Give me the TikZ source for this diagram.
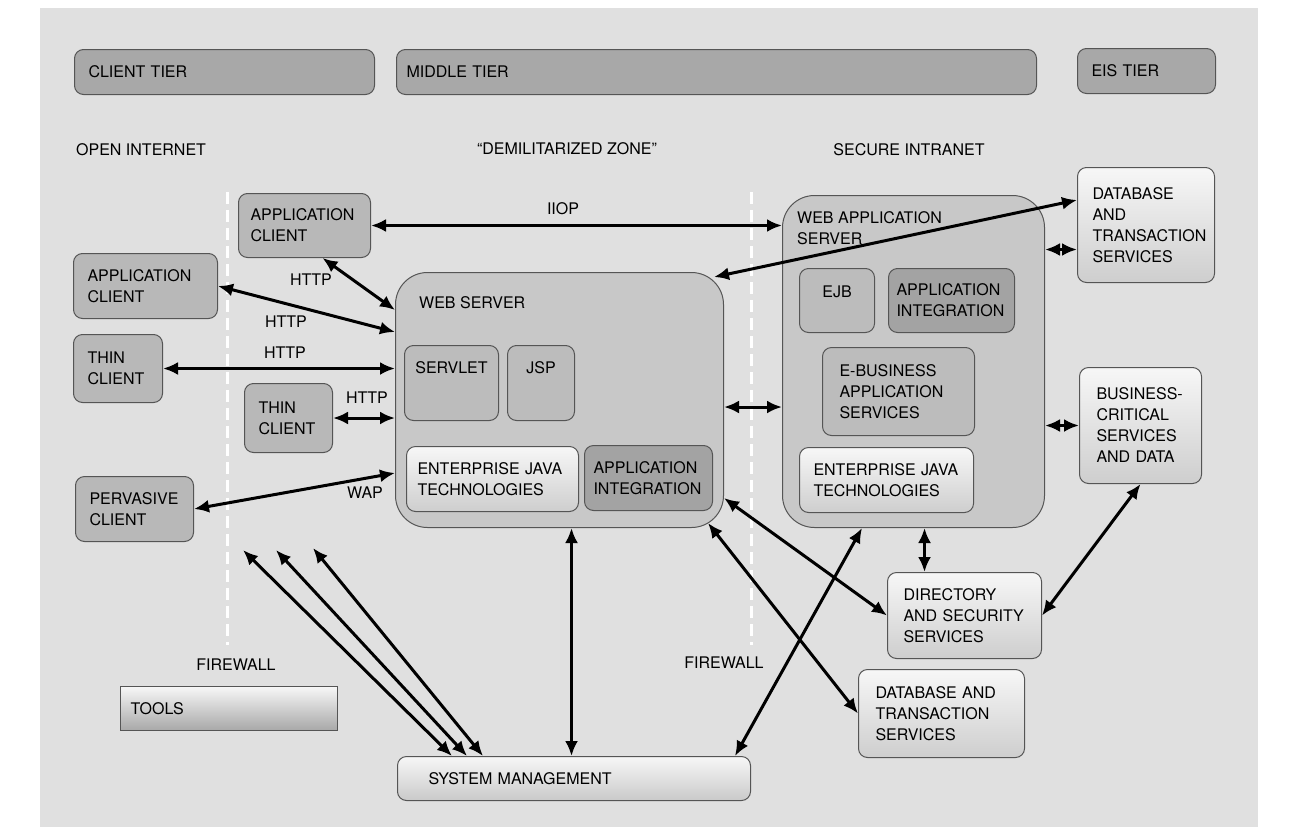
\documentclass[tikz,border=0pt]{standalone}
\usepackage{fontspec}
\setmainfont{TeX Gyre Heros}
\usetikzlibrary{arrows.meta,positioning}

\definecolor{panelgray}{RGB}{224,224,224}
\definecolor{tiergray}{RGB}{168,168,168}
\definecolor{clientgray}{RGB}{184,184,184}
\definecolor{servergray}{RGB}{200,200,200}
\definecolor{innergray}{RGB}{188,188,188}
\definecolor{intgray}{RGB}{163,163,163}
\definecolor{lighttop}{RGB}{247,247,247}
\definecolor{lightbot}{RGB}{206,206,206}
\definecolor{edgegray}{RGB}{85,85,85}

\tikzset{
	box/.style={draw=edgegray, line width=1pt, rounded corners=9pt, anchor=north west,
		inner xsep=14pt, inner ysep=0pt, align=left, font=\fontsize{16}{21}\selectfont},
	tierbar/.style={box, fill=tiergray},
	clientbox/.style={box, fill=clientgray},
	innerbox/.style={box, fill=innergray},
	intbox/.style={box, fill=intgray},
	lightbox/.style={box, top color=lighttop, bottom color=lightbot},
	serverbox/.style={box, fill=servergray, rounded corners=32pt},
	lbl/.style={inner sep=0pt, align=left, font=\fontsize{16}{21}\selectfont},
	conn/.style={line width=3pt, {Latex[length=15pt,width=13pt]}-{Latex[length=15pt,width=13pt]}},
	firewall/.style={draw=white, line width=3pt, dash pattern=on 12pt off 6pt}
}

\begin{document}
\begin{tikzpicture}[x=1pt,y=-1pt]
			%%%%% START %%%%%
			
			\fill[white] (0,0) rectangle (1289,827);
			\fill[panelgray] (40,8) rectangle (1258,827);
			\useasboundingbox (0,0) rectangle (1289,827);
			
			% tiers and zones
			\node[tierbar, minimum height=45, text width=272] (ctier) at (74,49) {CLIENT TIER};
			\node[tierbar, minimum height=45, text width=620, inner xsep=10pt] (mtier) at (396,49) {MIDDLE TIER};
			\node[tierbar, minimum height=45, text width=110] (etier) at (1077,48) {EIS TIER};
			
			\node[lbl, anchor=west] (openinet) at (76,150) {OPEN INTERNET};
			\node[lbl] (dmz) at (567,149) {``DEMILITARIZED ZONE''};
			\node[lbl] (intranet) at (909,150) {SECURE INTRANET};
			
			\draw[firewall] (227,192) -- (227,645);
			\draw[firewall] (751,192) -- (751,645);
			\node[lbl] (fwleft) at (236,665) {FIREWALL};
			\node[lbl] (fwright) at (724,663) {FIREWALL};
			
			% clients
			\node[clientbox, minimum height=64, text width=108, inner xsep=12pt] (ac1) at (238,193) {APPLICATION\\CLIENT};
			\node[clientbox, minimum height=65, text width=116] (ac2) at (73,253) {APPLICATION\\CLIENT};
			\node[clientbox, minimum height=68, text width=61] (tc1) at (73,334) {THIN\\CLIENT};
			\node[clientbox, minimum height=69, text width=60] (tc2) at (244,383) {THIN\\CLIENT};
			\node[clientbox, minimum height=65, text width=90] (pc) at (75,476) {PERVASIVE\\CLIENT};
			
			% web server
			\node[serverbox, minimum width=328, minimum height=255] (ws) at (395,272) {};
			\node[lbl, anchor=north west, below right=24pt and 24pt of ws.north west] (wstitle) {WEB SERVER};
			\node[innerbox, minimum width=94, minimum height=75] (servlet) at (404,345) {};
			\node[lbl, below=16pt of servlet.north] (servlettxt) {SERVLET};
			\node[innerbox, minimum width=67, minimum height=75] (jsp) at (507,345) {};
			\node[lbl, below=16pt of jsp.north] (jsptxt) {JSP};
			\node[lightbox, minimum height=65, text width=150, inner xsep=11pt] (wsjava) at (406,446) {ENTERPRISE~JAVA\\TECHNOLOGIES};
			\node[intbox, minimum height=65, text width=110, inner xsep=9pt] (wsint) at (584,445) {APPLICATION\\INTEGRATION};
			
			% web application server
			\node[serverbox, minimum width=262, minimum height=332] (was) at (782,195) {};
			\node[lbl, anchor=north west, below right=16pt and 15pt of was.north west] (wastitle) {WEB APPLICATION\\SERVER};
			\node[innerbox, minimum width=75, minimum height=64] (ejb) at (799,268) {};
			\node[lbl, below=18pt of ejb.north] (ejbtxt) {EJB};
			\node[intbox, minimum height=64, text width=110, inner xsep=8pt] (wasint) at (888,268) {APPLICATION\\INTEGRATION};
			\node[innerbox, minimum height=88, text width=118, inner xsep=17pt] (ebiz) at (822,347) {E-BUSINESS\\APPLICATION\\SERVICES};
			\node[lightbox, minimum height=65, text width=146, inner xsep=14pt] (wasjava) at (799,447) {ENTERPRISE~JAVA\\TECHNOLOGIES};
			
			% eis and services
			\node[lightbox, minimum height=115, text width=107, inner xsep=15pt] (dbt1) at (1077,167) {DATABASE\\AND\\TRANSACTION\\SERVICES};
			\node[lightbox, minimum height=116, text width=88, inner xsep=17pt] (bcs) at (1079,367) {BUSINESS-\\CRITICAL\\SERVICES\\AND DATA};
			\node[lightbox, minimum height=86, text width=122, inner xsep=16pt] (dir) at (887,572) {DIRECTORY\\AND SECURITY\\SERVICES};
			\node[lightbox, minimum height=88, text width=132, inner xsep=17pt] (dbt2) at (858,669) {DATABASE AND\\TRANSACTION\\SERVICES};
			
			\node[lightbox, rounded corners=0pt, bottom color=tiergray, minimum height=44, text width=197, inner xsep=10pt] (tools) at (120,686) {TOOLS};
			\node[lightbox, bottom color=panelgray!90!black, minimum height=44, text width=291, inner xsep=31pt] (sysm) at (397,756) {SYSTEM MANAGEMENT};
			
			% connectors
			\draw[conn] (ac1.east) -- (ac1.east -| was.west);
			\node[lbl] (iiop) at (563,209) {IIOP};
			
			\draw[conn] ([xshift=18pt]ac1.south) -- ([yshift=90pt]ws.west);
			\node[lbl] (httpa) at (311,280) {HTTP};
			\draw[conn] (ac2.east) -- ([yshift=68pt]ws.west);
			\node[lbl] (httpb) at (286,322) {HTTP};
			\draw[conn] (tc1.east) -- (tc1.east -| ws.west);
			\node[lbl] (httpc) at (285,353) {HTTP};
			\draw[conn] (tc2.east) -- (tc2.east -| ws.west);
			\node[lbl] (httpd) at (367,398) {HTTP};
			\draw[conn] (pc.east) -- ([yshift=-73pt]ws.west);
			\node[lbl] (wap) at (365,493) {WAP};
			
			\draw[conn] ([yshift=-7pt]ws.east) -- ([yshift=-7pt]ws.east -| was.west);
			\draw[conn] ([xshift=-10pt,yshift=-5pt]ws.north east) -- ([yshift=-33pt]dbt1.north west);
			\draw[conn] ([yshift=112pt]was.east) -- ([yshift=112pt]was.east -| dbt1.west);
			\draw[conn] ([yshift=-64pt]was.east) -- ([yshift=-64pt]was.east -| bcs.west);
			\draw[conn] ([xshift=11pt]was.south) -- ([xshift=11pt]was.south |- dir.north);
			\draw[conn] (bcs.south) -- (dir.east);
			\draw[conn] ([yshift=-98pt]ws.east) -- (dir.west);
			\draw[conn] ([xshift=-16pt,yshift=5pt]ws.south east) -- (dbt2.west);
			\draw[conn] ([xshift=12pt]ws.south) -- ([xshift=12pt]ws.south |- sysm.north);
			\draw[conn] ([xshift=80pt]was.south west) -- ([xshift=-16pt]sysm.north east);
			
			\coordinate (toola) at (243,550);
			\coordinate (toolb) at (276,550);
			\coordinate (toolc) at (313,548);
			\draw[conn] (toola) -- ([xshift=55pt]sysm.north west);
			\draw[conn] (toolb) -- ([xshift=70pt]sysm.north west);
			\draw[conn] (toolc) -- ([xshift=86pt]sysm.north west);
			
			%%%%% END %%%%%
\end{tikzpicture}
\end{document}
